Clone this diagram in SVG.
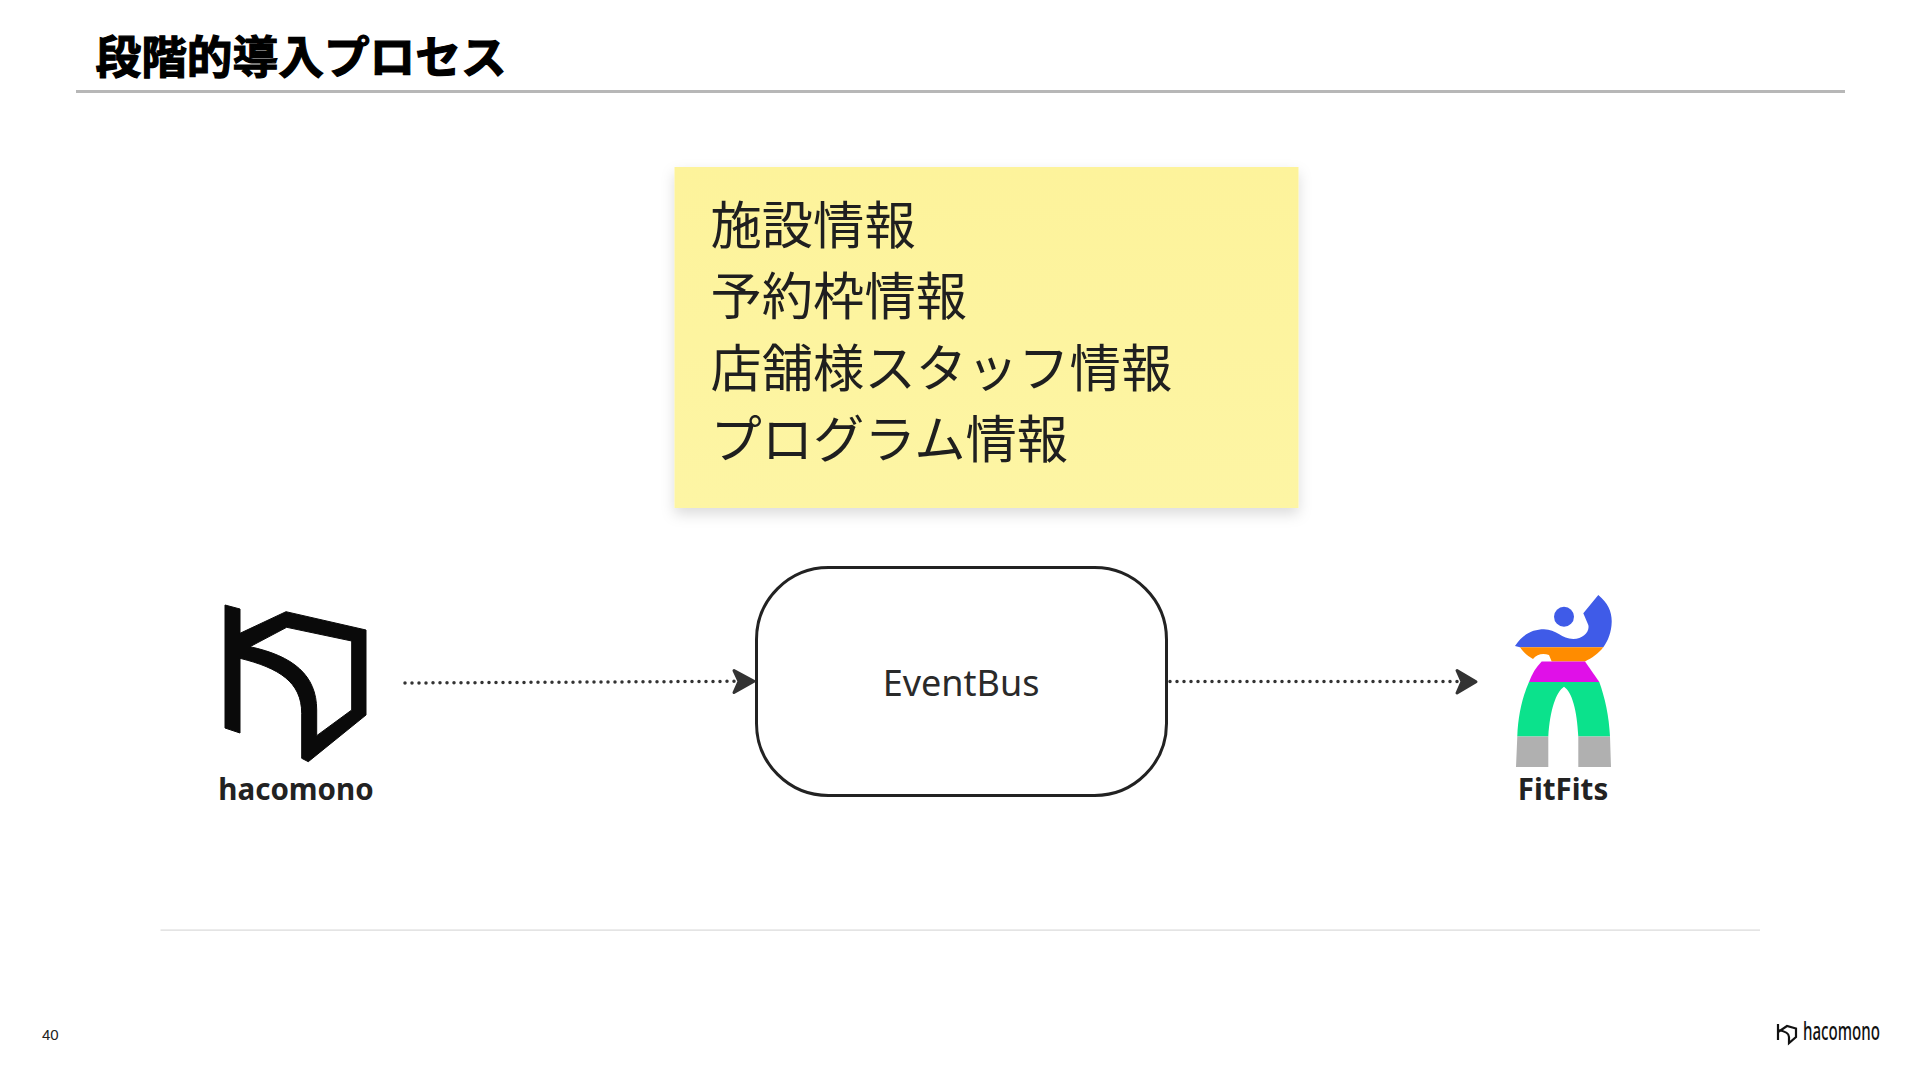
<svg xmlns="http://www.w3.org/2000/svg" width="1920" height="1080" viewBox="0 0 1920 1080">
<style>
.cjk{font-family:"Noto Sans CJK JP","Noto Sans",sans-serif}
.lat{font-family:"Noto Sans","Liberation Sans",sans-serif}
.note{font-size:51.300px;fill:#1f1f1f}
.logo{font-size:29.500px;font-weight:700;fill:#222;text-anchor:middle}
.dots{fill:none;stroke:#333;stroke-width:3.500;stroke-linecap:round;stroke-dasharray:0 7}
.head{fill:#333;stroke:#333;stroke-width:3;stroke-linejoin:round}
</style>
<defs>
<filter id="sh" x="-10%" y="-10%" width="120%" height="125%"><feDropShadow dx="0" dy="6" stdDeviation="7" flood-color="#000" flood-opacity="0.14"/></filter>
<linearGradient id="paper" x1="0" y1="0" x2="0" y2="1"><stop offset="0" stop-color="#fdf39b"/><stop offset="1" stop-color="#fdf5a4"/></linearGradient>
</defs>
<rect width="1920" height="1080" fill="#fff"/>
<g id="title">
<text x="95.500" y="74" class="cjk" font-size="45.700" font-weight="700" fill="#000" stroke="#000" stroke-width="1.200">段階的導入プロセス</text>
<rect x="76" y="90" width="1769" height="3" fill="#b7b7b7"/>
</g>
<g id="sticky">
<rect x="674.500" y="167" width="624" height="341" fill="url(#paper)" filter="url(#sh)"/>
<text x="710.500" y="243.500" class="cjk note">施設情報</text>
<text x="710.500" y="315" class="cjk note">予約枠情報</text>
<text x="710.500" y="386.500" class="cjk note">店舗様スタッフ情報</text>
<text x="710.500" y="458" class="cjk note">プログラム情報</text>
</g>
<g id="hacomono">
<path fill="#0a0a0a" stroke="#0a0a0a" stroke-width="1" stroke-linejoin="round" fill-rule="evenodd" d="M225 605L240 609V633.300L286 611.700L366 630V715L308.300 761.700L301.700 758.300V713.300C301.700 682 279 668 240 658.300V733L225 728ZM250 646.700L286.700 627.300L351.700 641V710L316.700 735.700V710C316.700 675 293 656 250 646.700Z"/>
<text x="296" y="800" class="lat logo">hacomono</text>
</g>
<g id="eventbus">
<rect x="756.500" y="567.500" width="410" height="228" rx="72" ry="72" fill="#fff" stroke="#222" stroke-width="3"/>
<text x="961" y="695.500" class="lat" font-size="36" fill="#2a2a2a" text-anchor="middle">EventBus</text>
</g>
<g id="fitfits">
<circle cx="1564" cy="616.700" r="10" fill="#3f5be8"/>
<path fill="#3f5be8" d="M1515 646C1523 634 1533 629.300 1544 629.300C1556 629.300 1562 639 1573.300 639C1583 639 1590 632 1588.300 625L1583.300 613.300L1598.300 595C1608 603 1612 612 1611.700 622C1611.500 632 1608 641 1603.300 647.300H1520Z"/>
<path fill="#ff8c00" d="M1520 647.300H1603.300C1598 654 1592 658 1585 661.500H1551.700L1549 655C1543 653 1537 654 1533 659C1528 656 1523 652 1520 647.300Z"/>
<path fill="#e010e8" d="M1541.700 661.500H1585L1599.300 682H1529C1532 674 1536 667 1541.700 661.500Z"/>
<path fill="#0be28c" d="M1529 682H1599.300C1605 698 1609 716 1610 736.500H1578.300C1577 710 1572 692 1564 686.700C1556 692 1550 710 1548.300 736.500H1517.300C1518 716 1522 698 1529 682Z"/>
<path fill="#b0b0b0" d="M1517.300 736.500H1548.300V767H1516ZM1578.300 736.500H1610L1611 767H1578.300Z"/>
<text x="1563" y="800" class="lat logo">FitFits</text>
</g>
<g id="connectors">
<path class="dots" d="M405 683L736 681.300"/>
<path class="head" d="M734 670.500L754 681.300L734 692.500L739 681.300Z"/>
<path class="dots" d="M1170 681.500L1458 681.500"/>
<path class="head" d="M1457 670.500L1476 681.700L1457 693L1462 681.700Z"/>
</g>
<rect id="baseline" x="160.500" y="929.500" width="1599.500" height="1.200" fill="#d9d9d9"/>
<text id="page" x="42" y="1040" font-family="Liberation Sans, sans-serif" font-size="15" fill="#222">40</text>
<g id="footer-logo">
<path fill="none" stroke="#111" stroke-width="2.200" d="M1778 1024V1040M1778 1032L1787 1026L1796 1028.500V1037L1789 1043V1037C1789 1033 1785 1031 1778 1030"/>
<text x="1803" y="1040" class="lat" font-size="25" font-weight="500" textLength="77" lengthAdjust="spacingAndGlyphs" fill="#111">hacomono</text>
</g>
</svg>
